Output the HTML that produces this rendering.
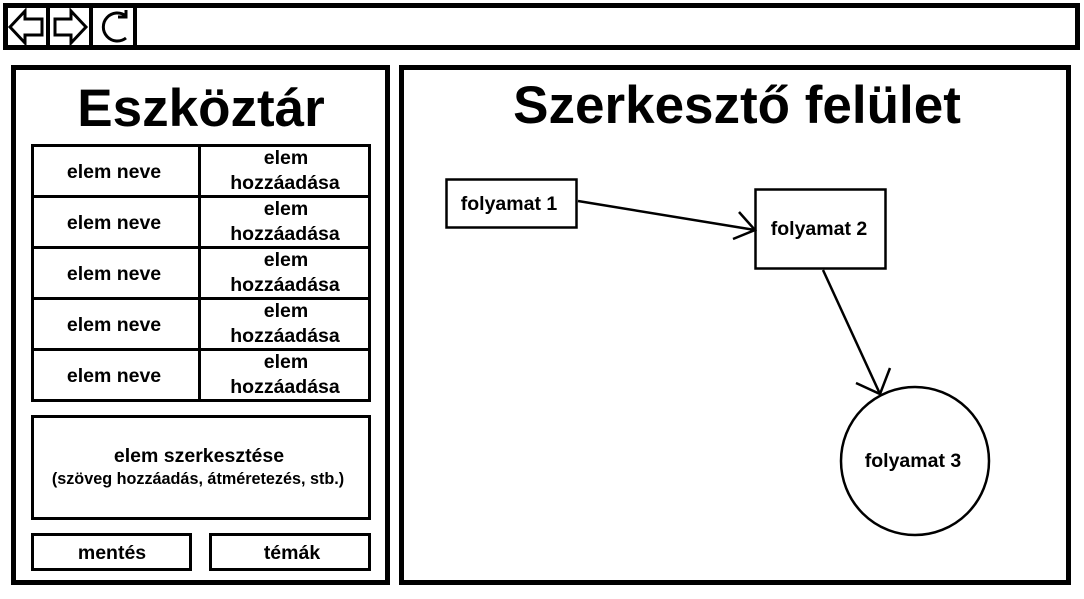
<!DOCTYPE html>
<html><head><meta charset="utf-8"><style>
html,body{margin:0;padding:0;background:#fff;width:1084px;height:599px;overflow:hidden}
text{font-family:"Liberation Sans",Arial,sans-serif;font-weight:bold;fill:#000}
</style></head><body>
<svg width="1084" height="599" viewBox="0 0 1084 599" xmlns="http://www.w3.org/2000/svg">
<g fill="none" stroke="#000">
<rect x="5.5" y="5.5" width="1072" height="42" stroke-width="5"/>
<line x1="48" y1="5" x2="48" y2="48" stroke-width="4"/>
<line x1="91" y1="5" x2="91" y2="48" stroke-width="4"/>
<line x1="135" y1="5" x2="135" y2="48" stroke-width="4"/>
<polygon points="10,27 25,11 25,19 42,19 42,35 25,35 25,43" stroke-width="3"/>
<polygon points="86,27 71,11 71,19 55,19 55,35 71,35 71,43" stroke-width="3"/>
<path d="M126,16 A14,14 0 1 0 126,38" stroke-width="3"/>
<path d="M126,10 L126,17 L118,17" stroke-width="3"/>
<rect x="13.5" y="67.5" width="374" height="515" stroke-width="5"/>
<rect x="401.5" y="67.5" width="667" height="515" stroke-width="5"/>
<rect x="32.5" y="145.5" width="337" height="255" stroke-width="3"/>
<line x1="199.5" y1="145" x2="199.5" y2="400" stroke-width="3"/>
<line x1="32" y1="196.5" x2="370" y2="196.5" stroke-width="3"/>
<line x1="32" y1="247.5" x2="370" y2="247.5" stroke-width="3"/>
<line x1="32" y1="298.5" x2="370" y2="298.5" stroke-width="3"/>
<line x1="32" y1="349.5" x2="370" y2="349.5" stroke-width="3"/>
<rect x="32.5" y="416.5" width="337" height="102" stroke-width="3"/>
<rect x="32.5" y="534.5" width="158" height="35" stroke-width="3"/>
<rect x="210.5" y="534.5" width="159" height="35" stroke-width="3"/>
<rect x="446.5" y="179.5" width="130" height="48" stroke-width="2.5"/>
<rect x="755.5" y="189.5" width="130" height="79" stroke-width="2.5"/>
<circle cx="915" cy="461" r="74" stroke-width="2.5"/>
<line x1="578" y1="201" x2="755" y2="230" stroke-width="2.5"/>
<polyline points="739,212 755,230 733,239" stroke-width="2.5"/>
<line x1="823" y1="270" x2="880" y2="394" stroke-width="2.5"/>
<polyline points="890,368 880,394 856,383" stroke-width="2.5"/>
</g>
<text x="201" y="126" font-size="53" text-anchor="middle">Eszköztár</text>
<text x="737" y="123" font-size="53" text-anchor="middle">Szerkesztő felület</text>
<g font-size="19.5" text-anchor="middle">
<text x="114" y="178">elem neve</text>
<text x="286" y="164">elem</text><text x="285" y="189">hozzáadása</text>
<text x="114" y="229">elem neve</text>
<text x="286" y="215">elem</text><text x="285" y="240">hozzáadása</text>
<text x="114" y="280">elem neve</text>
<text x="286" y="266">elem</text><text x="285" y="291">hozzáadása</text>
<text x="114" y="331">elem neve</text>
<text x="286" y="317">elem</text><text x="285" y="342">hozzáadása</text>
<text x="114" y="382">elem neve</text>
<text x="286" y="368">elem</text><text x="285" y="393">hozzáadása</text>
<text x="199" y="462">elem szerkesztése</text>
<text x="112" y="559">mentés</text>
<text x="292" y="559">témák</text>
<text x="509" y="210">folyamat 1</text>
<text x="819" y="235">folyamat 2</text>
<text x="913" y="467">folyamat 3</text>
</g>
<text x="198" y="484" font-size="16.2" text-anchor="middle">(szöveg hozzáadás, átméretezés, stb.)</text>
</svg>
</body></html>
